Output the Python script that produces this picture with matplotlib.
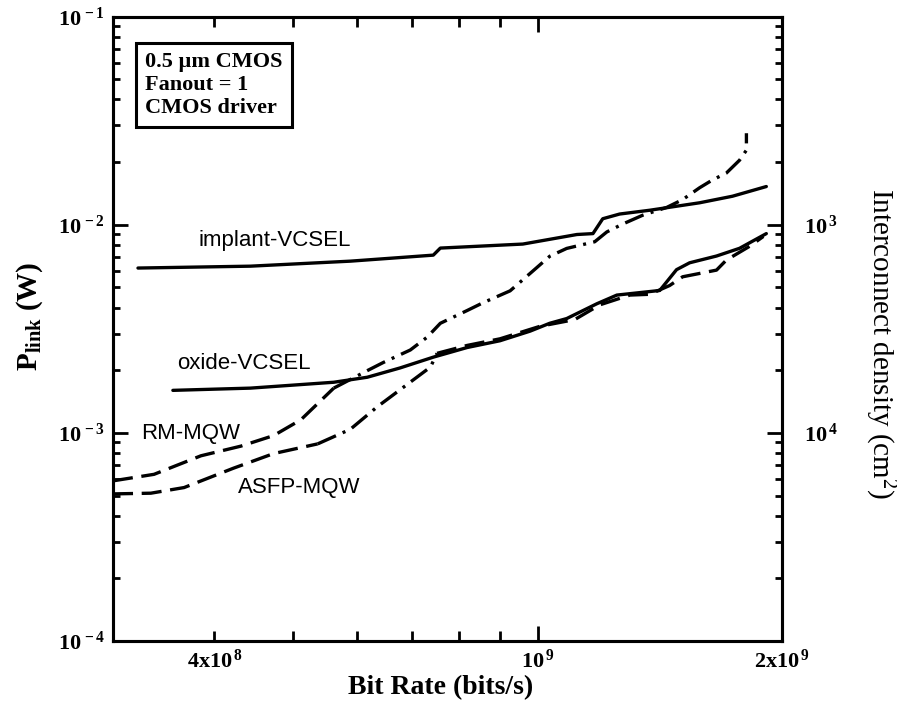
import matplotlib

matplotlib.use("Agg")
import matplotlib.pyplot as plt
from matplotlib.ticker import FixedLocator, FuncFormatter, LogLocator, NullFormatter

plt.rcParams["font.family"] = ["Liberation Serif", "DejaVu Serif"]
plt.rcParams["mathtext.fontset"] = "custom"
plt.rcParams["mathtext.rm"] = "Liberation Serif"
plt.rcParams["mathtext.bf"] = "Liberation Serif:bold"
plt.rcParams["mathtext.it"] = "Liberation Serif:italic"

# link power (W) versus bit rate (bits/s)
IMPLANT_RATE = [3.22e8, 4.43e8, 5.88e8, 7.44e8, 7.59e8, 9.59e8, 1.118e9, 1.17e9, 1.203e9,
                1.262e9, 1.374e9, 1.583e9, 1.738e9, 1.913e9]
IMPLANT_P = [6.19e-3, 6.32e-3, 6.68e-3, 7.14e-3, 7.72e-3, 8.07e-3, 8.97e-3, 9.06e-3, 1.068e-2,
             1.125e-2, 1.173e-2, 1.274e-2, 1.37e-2, 1.525e-2]

OXIDE_RATE = [3.555e8, 4.43e8, 5.61e8, 6.17e8, 6.77e8, 7.44e8, 8.19e8, 8.99e8, 9.79e8, 1.035e9,
              1.086e9, 1.183e9, 1.252e9, 1.414e9, 1.483e9, 1.539e9, 1.661e9, 1.773e9, 1.913e9]
OXIDE_P = [1.60e-3, 1.64e-3, 1.75e-3, 1.85e-3, 2.05e-3, 2.31e-3, 2.57e-3, 2.77e-3, 3.08e-3, 3.36e-3,
           3.54e-3, 4.17e-3, 4.59e-3, 4.83e-3, 6.08e-3, 6.56e-3, 7.07e-3, 7.70e-3, 9.06e-3]

RM_RATE = [3.0e8, 3.37e8, 3.85e8, 4.31e8, 4.73e8, 5.11e8, 5.61e8, 6.17e8, 6.46e8, 6.97e8, 7.31e8,
           7.59e8, 8.19e8, 8.57e8, 9.25e8, 9.93e8, 1.035e9, 1.086e9, 1.176e9, 1.217e9, 1.273e9,
           1.347e9, 1.442e9, 1.509e9, 1.583e9, 1.642e9, 1.708e9, 1.773e9, 1.808e9, 1.808e9]
RM_P = [5.88e-4, 6.32e-4, 7.76e-4, 8.63e-4, 9.70e-4, 1.155e-3, 1.64e-3, 1.99e-3, 2.18e-3, 2.50e-3,
        2.88e-3, 3.36e-3, 3.87e-3, 4.22e-3, 4.81e-3, 6.12e-3, 7.05e-3, 7.69e-3, 8.28e-3, 9.23e-3,
        1.007e-2, 1.110e-2, 1.21e-2, 1.32e-2, 1.504e-2, 1.64e-2, 1.77e-2, 2.04e-2, 2.28e-2, 2.75e-2]
RM_DASHDOT_FROM = 6

ASFP_RATE = [3.0e8, 3.34e8, 3.67e8, 4.22e8, 4.73e8, 5.36e8, 5.88e8, 6.35e8, 6.77e8, 7.38e8, 7.52e8,
             8.19e8, 8.99e8, 1.007e9, 1.111e9, 1.193e9, 1.299e9, 1.374e9, 1.454e9, 1.509e9,
             1.661e9, 1.708e9, 1.824e9, 1.897e9]
ASFP_P = [5.09e-4, 5.13e-4, 5.46e-4, 6.76e-4, 7.95e-4, 8.85e-4, 1.04e-3, 1.336e-3, 1.61e-3, 2.07e-3,
          2.41e-3, 2.63e-3, 2.83e-3, 3.25e-3, 3.50e-3, 4.12e-3, 4.59e-3, 4.63e-3, 5.10e-3, 5.62e-3,
          6.05e-3, 6.76e-3, 7.87e-3, 8.78e-3]
ASFP_DASHDOT = (5, 10)

CURVE_LABELS = ["implant-VCSEL", "oxide-VCSEL", "RM-MQW", "ASFP-MQW"]
LABEL_RATE = [3.82e8, 3.595e8, 3.25e8, 4.27e8]
LABEL_P = [8.39e-3, 2.15e-3, 9.97e-4, 5.48e-4]

X_TICKS = {4e8: r"$\mathbf{4x10^{\,8}}$", 1e9: r"$\mathbf{10^{\,9}}$", 2e9: r"$\mathbf{2x10^{\,9}}$"}
Y_TICKS = {1e-1: r"$\mathbf{10^{\,-1}}$", 1e-2: r"$\mathbf{10^{\,-2}}$",
           1e-3: r"$\mathbf{10^{\,-3}}$", 1e-4: r"$\mathbf{10^{\,-4}}$"}
DENSITY_TICKS = {1e-2: r"$\mathbf{10^{\,3}}$", 1e-3: r"$\mathbf{10^{\,4}}$"}

LW = 2.4
DASH = (6.0, 2.6)
DASHDOT = (6.0, 2.2, 0.9, 2.2)

fig = plt.figure(figsize=(8.97, 7.09), dpi=100)
ax = fig.add_axes([0.126, 0.0959, 0.7458, 0.8808])
ax.set_xscale("log")
ax.set_yscale("log")
ax.set_xlim(3e8, 2e9)
ax.set_ylim(1e-4, 1e-1)

ax.plot(IMPLANT_RATE, IMPLANT_P, color="black", lw=LW, solid_capstyle="round")
ax.plot(OXIDE_RATE, OXIDE_P, color="black", lw=LW, solid_capstyle="round")

k = RM_DASHDOT_FROM
ax.plot(RM_RATE[:k + 1], RM_P[:k + 1], color="black", lw=LW, dashes=DASH)
ax.plot(RM_RATE[k:], RM_P[k:], color="black", lw=LW, dashes=DASHDOT)

a, b = ASFP_DASHDOT
ax.plot(ASFP_RATE[:a + 1], ASFP_P[:a + 1], color="black", lw=LW, dashes=DASH)
ax.plot(ASFP_RATE[a:b + 1], ASFP_P[a:b + 1], color="black", lw=LW, dashes=DASHDOT)
ax.plot(ASFP_RATE[b:], ASFP_P[b:], color="black", lw=LW, dashes=DASH)

for text, xr, pr in zip(CURVE_LABELS, LABEL_RATE, LABEL_P):
    ax.text(xr, pr, text, family=["Liberation Sans", "DejaVu Sans"], fontsize=16,
            ha="left", va="center")

ax.text(0.048, 0.943, "0.5 µm CMOS\nFanout = 1\nCMOS driver", transform=ax.transAxes,
        fontsize=16, fontweight="bold", ha="left", va="top", linespacing=1.2,
        bbox=dict(boxstyle="square,pad=0.4", fc="white", ec="black", lw=2.2))

# axes frame and ticks
for sp in ax.spines.values():
    sp.set_linewidth(2.2)

ax.xaxis.set_major_locator(FixedLocator([1e9]))
ax.xaxis.set_minor_locator(FixedLocator([4e8, 5e8, 6e8, 7e8, 8e8, 9e8, 2e9]))
ax.xaxis.set_major_formatter(FuncFormatter(lambda v, pos: X_TICKS.get(v, "")))
ax.xaxis.set_minor_formatter(FuncFormatter(lambda v, pos: X_TICKS.get(v, "")))
ax.yaxis.set_major_locator(FixedLocator(list(Y_TICKS)))
ax.yaxis.set_minor_locator(LogLocator(base=10, subs=range(2, 10)))
ax.yaxis.set_major_formatter(FuncFormatter(lambda v, pos: Y_TICKS.get(v, "")))
ax.yaxis.set_minor_formatter(NullFormatter())

ax.tick_params(axis="both", which="both", direction="in", width=2, labelsize=16)
ax.tick_params(axis="x", which="both", top=True, pad=6)
ax.tick_params(axis="x", which="major", length=11)
ax.tick_params(axis="x", which="minor", length=7)
ax.tick_params(axis="y", which="major", length=11, pad=6)
ax.tick_params(axis="y", which="minor", length=5)

ax2 = ax.twinx()
ax2.set_yscale("log")
ax2.set_ylim(ax.get_ylim())
ax2.yaxis.set_major_locator(FixedLocator(list(DENSITY_TICKS)))
ax2.yaxis.set_minor_locator(LogLocator(base=10, subs=range(2, 10)))
ax2.yaxis.set_major_formatter(FuncFormatter(lambda v, pos: DENSITY_TICKS.get(v, "")))
ax2.yaxis.set_minor_formatter(NullFormatter())
ax2.tick_params(axis="y", which="both", direction="in", width=2, labelsize=16, pad=16)
ax2.tick_params(axis="y", which="major", length=11)
ax2.tick_params(axis="y", which="minor", length=5)
for sp in ax2.spines.values():
    sp.set_linewidth(2.2)

ax.set_xlabel("Bit Rate (bits/s)", fontsize=20, fontweight="bold", va="center")
ax.xaxis.set_label_coords(0.489, -0.075)
ax.set_ylabel(r"P$_{\mathbf{link}}$ (W)", fontsize=21, fontweight="bold", va="center")
ax.yaxis.set_label_coords(-0.124, 0.52)
ax2.set_ylabel("Interconnect density (cm$^2$)", fontsize=21, rotation=270, va="center")
ax2.yaxis.set_label_coords(1.146, 0.477)

fig.savefig("out.png", dpi=100, facecolor="white")
